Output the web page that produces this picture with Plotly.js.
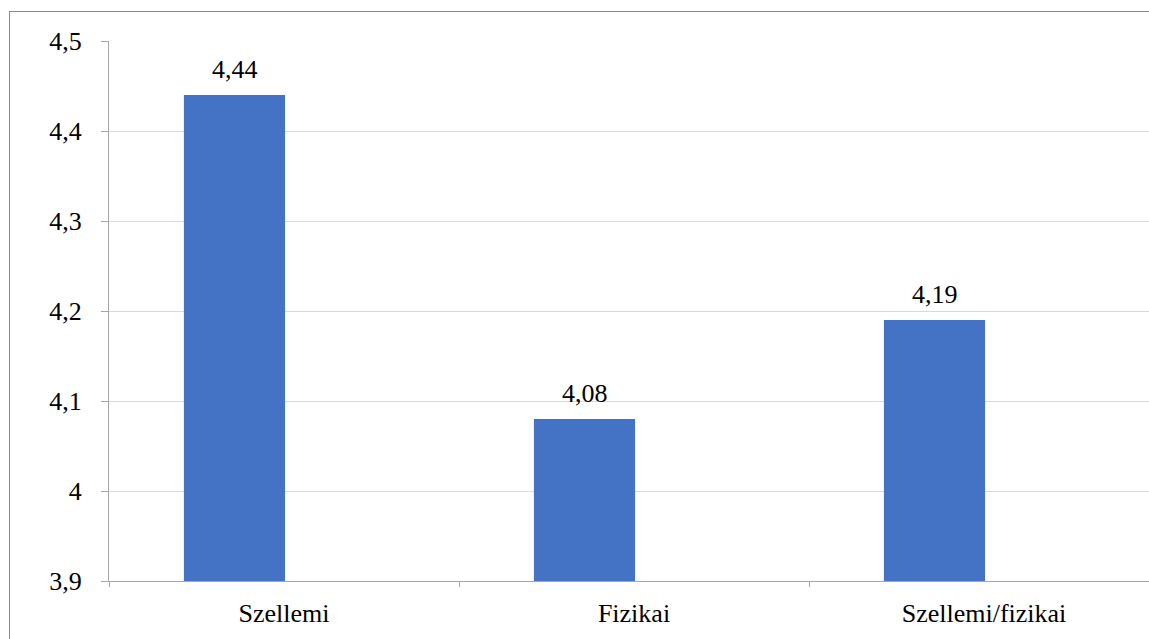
<!DOCTYPE html>
<html>
<head>
<meta charset="utf-8">
<script src="https://cdn.plot.ly/plotly-3.0.1.min.js"></script>
<style>
  html, body { margin: 0; padding: 0; background: #fff; }
  #chart { width: 1149px; height: 639px; position: relative; }
  #frame { position: absolute; left: 9px; top: 11px; width: 1200px; height: 700px;
           border-top: 1px solid #8a8a8a; border-left: 1px solid #8a8a8a; pointer-events: none; }
</style>
</head>
<body>
<div id="chart"></div>
<div id="frame"></div>
<script>
var categories = ["Szellemi", "Fizikai", "Szellemi/fizikai"];
var values = [4.44, 4.08, 4.19];
var yTickVals = [3.9, 4.0, 4.1, 4.2, 4.3, 4.4, 4.5];

var font = { family: "'Liberation Serif', 'DejaVu Serif', serif", size: 26, color: "#000" };

var trace = {
  type: "bar",
  x: categories,
  y: values,
  width: 0.289,
  offset: -0.286,
  marker: { color: "#4472c4" },
  hoverinfo: "skip"
};

var annotations = categories.map(function (c, i) {
  return {
    x: c, y: values[i], xref: "x", yref: "y",
    xshift: -49,
    yshift: 26,
    text: values[i].toFixed(2).replace(".", ","),
    showarrow: false,
    font: font,
    yanchor: "middle", xanchor: "center"
  };
});

var layout = {
  width: 1149,
  height: 639,
  margin: { l: 109, r: 0, t: 41, b: 58, pad: 0 },
  paper_bgcolor: "#ffffff",
  plot_bgcolor: "#ffffff",
  separators: ",.",
  showlegend: false,
  font: font,
  annotations: annotations,
  xaxis: {
    type: "category",
    range: [-0.5, 2.4714],
    tickson: "boundaries",
    ticks: "outside",
    ticklen: 5,
    tickcolor: "#a6a6a6",
    showline: true,
    linecolor: "#a6a6a6",
    linewidth: 1,
    showgrid: false,
    tickfont: font,
    ticklabelstandoff: 9,
    fixedrange: true
  },
  yaxis: {
    range: [3.9, 4.5],
    tickvals: yTickVals,
    ticktext: yTickVals.map(function (v) { return String(v).replace(".", ","); }),
    ticks: "outside",
    ticklen: 7,
    tickcolor: "#a6a6a6",
    showline: true,
    linecolor: "#a6a6a6",
    linewidth: 1,
    showgrid: true,
    gridcolor: "#d9d9d9",
    gridwidth: 1,
    zeroline: false,
    tickfont: font,
    ticklabelstandoff: 14,
    fixedrange: true
  }
};

Plotly.newPlot("chart", [trace], layout, { staticPlot: true, displayModeBar: false });
</script>
</body>
</html>
